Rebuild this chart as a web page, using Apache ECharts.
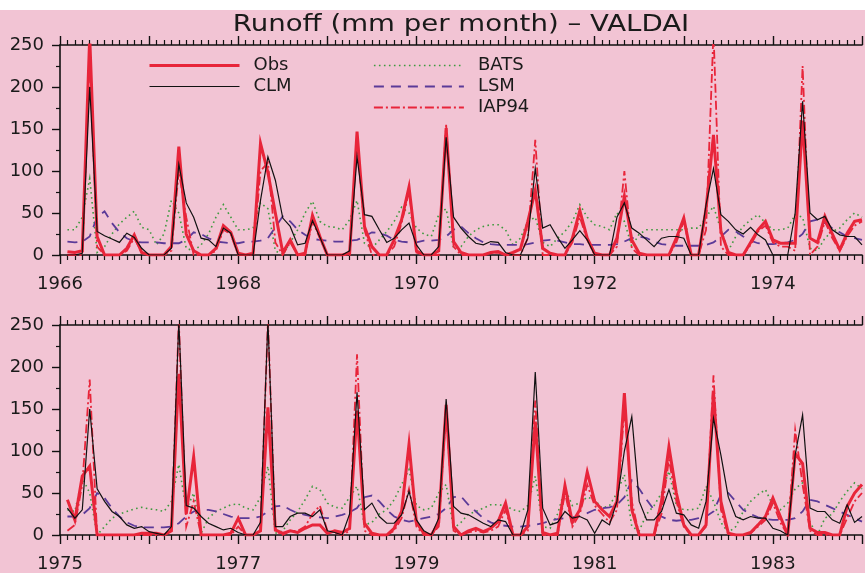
<!DOCTYPE html>
<html>
<head>
<meta charset="utf-8">
<script src="https://cdn.jsdelivr.net/npm/echarts@6/dist/echarts.min.js"></script>
<style>
html,body{margin:0;padding:0;background:#fff;}
#chart{width:865px;height:573px;background:linear-gradient(#ffffff 0,#ffffff 10px,#f2c4d4 10px,#f2c4d4 100%);}
</style>
</head>
<body>
<div id="chart"></div>
<script>
// ---- data (monthly runoff, mm per month) ----
const title = 'Runoff (mm per month) \u2013 VALDAI';
const seriesNames = ['Obs', 'CLM', 'BATS', 'LSM', 'IAP94'];
const topStartYear = 1966;
const bottomStartYear = 1975;
const yTicks = [0, 50, 100, 150, 200, 250];

const obsTop = [
  4, 3, 5, 260, 22, 0, 0, 0, 8, 24, 3, 0,
  0, 0, 10, 129, 25, 5, 0, 0, 8, 35, 27, 2,
  0, 2, 133, 98, 50, 3, 18, 0, 2, 47, 22, 0,
  0, 0, 2, 147, 34, 10, 0, 0, 18, 42, 81, 5,
  0, 0, 5, 151, 16, 3, 0, 0, 0, 3, 4, 0,
  3, 7, 40, 77, 8, 2, 0, 0, 20, 53, 20, 2,
  0, 0, 20, 70, 18, 2, 0, 0, 0, 0, 20, 44,
  0, 0, 55, 143, 28, 3, 0, 0, 15, 30, 40, 18,
  14, 14, 14, 160, 20, 15, 46, 25, 6, 26, 40, 42
];
const clmTop = [
  0, 0, 2, 200, 28, 23, 19, 15, 26, 21, 8, 0,
  0, 0, 8, 108, 62, 45, 20, 18, 10, 32, 26, 0,
  0, 0, 65, 117, 89, 44, 34, 12, 14, 41, 21, 0,
  0, 0, 5, 117, 48, 46, 30, 15, 20, 30, 38, 12,
  0, 0, 10, 140, 45, 32, 22, 14, 12, 16, 15, 3,
  0, 0, 20, 103, 32, 36, 21, 8, 18, 29, 18, 0,
  0, 0, 45, 62, 32, 26, 18, 10, 20, 22, 22, 20,
  0, 0, 60, 103, 48, 40, 30, 25, 33, 24, 18, 0,
  0, 0, 50, 183, 50, 42, 46, 30, 24, 22, 22, 12
];
const batsTop = [
  30, 30, 45, 91, 3, 10, 25, 37, 45, 52, 33, 30,
  12, 25, 65, 50, 8, 5, 12, 25, 45, 60, 45, 30,
  30, 32, 62, 55, 5, 0, 15, 30, 50, 64, 40, 34,
  33, 30, 42, 65, 14, 8, 18, 28, 40, 57, 50, 32,
  25, 22, 48, 55, 8, 10, 22, 30, 34, 36, 36, 30,
  12, 20, 40, 45, 15, 10, 20, 28, 40, 60, 45, 36,
  34, 30, 50, 40, 10, 25, 30, 30, 30, 30, 30, 30,
  32, 32, 45, 58, 30, 5, 22, 34, 42, 48, 38, 30,
  30, 32, 48, 45, 8, 5, 20, 28, 32, 42, 50, 45
];
const lsmTop = [
  16, 15, 16, 22, 45, 52, 38, 27, 20, 16, 15, 15,
  15, 14, 14, 14, 18, 27, 25, 20, 16, 15, 14, 14,
  16, 16, 17, 20, 33, 46, 40, 30, 24, 19, 18, 17,
  16, 16, 17, 18, 22, 27, 26, 23, 18, 16, 15, 15,
  17, 17, 18, 22, 30, 34, 26, 20, 15, 13, 12, 12,
  12, 12, 13, 15, 17, 18, 17, 15, 13, 13, 12, 12,
  12, 12, 13, 16, 20, 22, 20, 16, 13, 12, 11, 11,
  11, 11, 12, 15, 22, 30, 28, 22, 17, 14, 13, 13,
  14, 15, 18, 25, 40, 42, 38, 32, 27, 22, 20, 18
];
const iapTop = [
  0, 0, 0, 240, 10, 0, 0, 0, 5, 20, 3, 0,
  0, 0, 5, 100, 45, 0, 0, 0, 5, 30, 25, 0,
  0, 0, 100, 110, 15, 0, 15, 0, 0, 40, 20, 0,
  0, 0, 0, 140, 30, 0, 0, 0, 10, 38, 75, 3,
  0, 0, 0, 155, 10, 0, 0, 0, 0, 2, 3, 0,
  0, 0, 20, 137, 0, 0, 0, 0, 15, 45, 18, 0,
  0, 0, 10, 100, 8, 0, 0, 0, 0, 0, 15, 40,
  0, 0, 30, 265, 10, 0, 0, 0, 12, 28, 35, 15,
  10, 10, 5, 225, 0, 10, 40, 20, 5, 22, 35, 40
];

const obsBottom = [
  42, 18, 70, 82, 0, 0, 0, 0, 0, 0, 2, 2,
  2, 0, 5, 192, 25, 93, 0, 0, 0, 0, 2, 20,
  0, 0, 5, 152, 6, 2, 5, 3, 8, 12, 12, 2,
  5, 3, 8, 148, 14, 2, 0, 0, 8, 28, 108, 15,
  2, 0, 15, 155, 10, 0, 5, 8, 4, 8, 16, 38,
  0, 0, 10, 135, 3, 0, 2, 59, 15, 30, 75, 40,
  30, 22, 40, 169, 30, 0, 0, 0, 40, 105, 50, 12,
  0, 0, 12, 170, 40, 2, 0, 0, 3, 12, 22, 44,
  22, 0, 97, 85, 8, 3, 3, 0, 0, 34, 50, 60
];
const clmBottom = [
  32, 20, 30, 150, 55, 40, 28, 22, 12, 8, 10, 4,
  2, 0, 10, 255, 35, 32, 22, 14, 10, 6, 8, 3,
  0, 0, 15, 255, 10, 10, 22, 26, 26, 22, 30, 5,
  3, 0, 25, 170, 30, 38, 22, 14, 14, 24, 52, 18,
  5, 0, 20, 162, 34, 26, 24, 19, 14, 10, 18, 16,
  0, 0, 30, 194, 32, 12, 15, 28, 20, 22, 18, 2,
  18, 12, 40, 100, 141, 40, 18, 18, 28, 54, 26, 24,
  12, 8, 40, 139, 95, 45, 22, 18, 22, 20, 20, 8,
  5, 0, 95, 143, 32, 28, 28, 18, 14, 36, 15, 22
];
const batsBottom = [
  30, 28, 68, 50, 0, 10, 20, 25, 28, 31, 33, 31,
  30, 28, 40, 84, 30, 50, 2, 20, 28, 32, 36, 37,
  32, 30, 45, 82, 2, 5, 18, 28, 42, 58, 54, 38,
  33, 32, 45, 58, 12, 15, 25, 30, 42, 60, 78, 35,
  30, 32, 50, 60, 8, 15, 25, 28, 32, 36, 36, 35,
  30, 28, 35, 70, 10, 8, 25, 55, 35, 38, 45, 42,
  32, 35, 50, 72, 10, 5, 25, 35, 50, 76, 35, 30,
  30, 32, 58, 40, 15, 3, 10, 28, 40, 48, 54, 35,
  30, 38, 55, 62, 15, 0, 20, 25, 40, 52, 62, 55
];
const lsmBottom = [
  22, 22, 24, 32, 50, 44, 32, 22, 15, 11, 9, 9,
  9, 9, 10, 14, 22, 28, 30, 30, 28, 25, 22, 20,
  20, 20, 22, 28, 34, 35, 30, 26, 24, 22, 21, 20,
  22, 24, 27, 32, 45, 47, 40, 30, 22, 18, 16, 18,
  20, 22, 25, 32, 45, 46, 36, 28, 20, 15, 12, 11,
  10, 10, 11, 12, 14, 17, 19, 20, 21, 23, 26, 30,
  32, 33, 36, 45, 65, 55, 42, 30, 22, 18, 17, 18,
  18, 20, 22, 28, 48, 50, 40, 30, 25, 21, 19, 18,
  18, 18, 20, 28, 42, 40, 36, 32, 28, 24, 20, 16
];
const iapBottom = [
  5, 12, 60, 185, 0, 0, 0, 0, 0, 0, 0, 0,
  0, 0, 5, 255, 10, 40, 0, 0, 0, 0, 0, 10,
  0, 0, 5, 255, 5, 0, 5, 5, 10, 25, 35, 5,
  3, 0, 5, 215, 5, 0, 0, 0, 5, 20, 55, 10,
  0, 0, 10, 150, 5, 0, 3, 5, 3, 5, 10, 30,
  0, 0, 5, 160, 0, 0, 0, 50, 10, 25, 60, 35,
  25, 15, 30, 150, 40, 0, 0, 0, 25, 90, 40, 10,
  0, 0, 10, 190, 30, 0, 0, 0, 2, 10, 18, 38,
  15, 0, 125, 60, 5, 0, 0, 0, 0, 20, 40, 50
];

// ---- styles ----
const FONT = 'DejaVu Sans';
const RED = '#e8253a';
const styles = {
  Obs:   {color: RED, width: 3, type: 'solid', z: 4},
  CLM:   {color: '#111111', width: 1.2, type: 'solid', z: 5},
  BATS:  {color: '#3f9a3f', width: 1.6, type: [1.6, 3.4], z: 2},
  LSM:   {color: '#5b3a98', width: 1.8, type: [10, 7], z: 2},
  IAP94: {color: RED, width: 1.8, type: [9, 3, 2, 3], z: 3}
};

function toPoints(values, startYear) {
  return values.map((v, i) => [startYear + (i + 1) / 12, v]);
}

function makeSeries(name, values, startYear, idx) {
  const s = styles[name];
  return {
    name: name, type: 'line', xAxisIndex: idx * 2, yAxisIndex: idx,
    data: toPoints(values, startYear),
    showSymbol: false, symbol: 'none', clip: true, z: s.z,
    lineStyle: {color: s.color, width: s.width, type: s.type, join: 'miter'},
    itemStyle: {color: s.color},
    emphasis: {disabled: true}, animation: false
  };
}

const axisColor = '#111';
function xAxes(gi, start) {
  const common = {
    gridIndex: gi, type: 'value', min: start, max: start + 9, interval: 1,
    axisLine: {show: true, onZero: false, lineStyle: {color: axisColor, width: 1.6}},
    axisTick: {show: true, length: 9, lineStyle: {color: axisColor, width: 1.4}},
    minorTick: {show: true, splitNumber: 12, length: 5, lineStyle: {color: axisColor, width: 1.2}},
    splitLine: {show: false}, minorSplitLine: {show: false}
  };
  return [
    Object.assign({}, common, {
      position: 'bottom',
      axisLabel: {show: true, margin: 20, fontSize: 18, fontFamily: FONT, color: '#1a1a1a',
        formatter: function (v) { return ((Math.round(v) - start) % 2 === 0) ? String(Math.round(v)) : ''; }}
    }),
    Object.assign({}, common, {position: 'top', axisLabel: {show: false}})
  ];
}
function yAxis(gi) {
  return {
    gridIndex: gi, type: 'value', min: yTicks[0], max: yTicks[yTicks.length - 1],
    interval: yTicks[1] - yTicks[0],
    axisLine: {show: true, lineStyle: {color: axisColor, width: 1.6}},
    axisTick: {show: true, length: 8, lineStyle: {color: axisColor, width: 1.4}},
    minorTick: {show: true, splitNumber: 2, length: 4, lineStyle: {color: axisColor, width: 1.2}},
    axisLabel: {margin: 16, fontSize: 18, fontFamily: FONT, color: '#1a1a1a'},
    splitLine: {show: false}
  };
}

function legendItem(name) {
  const s = styles[name];
  return {name: name, lineStyle: {color: s.color, width: s.width, type: s.type}};
}
function legendBox(names, left) {
  return {
    show: true, orient: 'vertical', left: left, top: 55, padding: 0,
    itemWidth: 90, itemHeight: 14, itemGap: 0, selectedMode: false,
    data: names.map(legendItem),
    itemStyle: {opacity: 0},
    textStyle: {fontSize: 18, fontFamily: FONT, color: '#1a1a1a', lineHeight: 21, padding: [0, 0, 0, 9]}
  };
}

const chart = echarts.init(document.getElementById('chart'), null, {renderer: 'canvas'});
const series = [];
const topData = {Obs: obsTop, CLM: clmTop, BATS: batsTop, LSM: lsmTop, IAP94: iapTop};
const bottomData = {Obs: obsBottom, CLM: clmBottom, BATS: batsBottom, LSM: lsmBottom, IAP94: iapBottom};
seriesNames.forEach(n => series.push(makeSeries(n, topData[n], topStartYear, 0)));
seriesNames.forEach(n => series.push(makeSeries(n, bottomData[n], bottomStartYear, 1)));

chart.setOption({
  backgroundColor: 'transparent',
  animation: false,
  graphic: [{
    type: 'text', x: 461, y: 25, scaleX: 1.2, z: 10,
    style: {text: title, fontSize: 23, fontFamily: FONT, fill: '#1a1a1a', align: 'center', verticalAlign: 'middle'}
  }],
  legend: [legendBox(['Obs', 'CLM'], 148), legendBox(['BATS', 'LSM', 'IAP94'], 373)],
  grid: [
    {left: 60, top: 45, width: 805, height: 210, containLabel: false},
    {left: 60, top: 325, width: 805, height: 210, containLabel: false}
  ],
  xAxis: xAxes(0, topStartYear).concat(xAxes(1, bottomStartYear)),
  yAxis: [yAxis(0), yAxis(1)],
  series: series
});
</script>
</body>
</html>
